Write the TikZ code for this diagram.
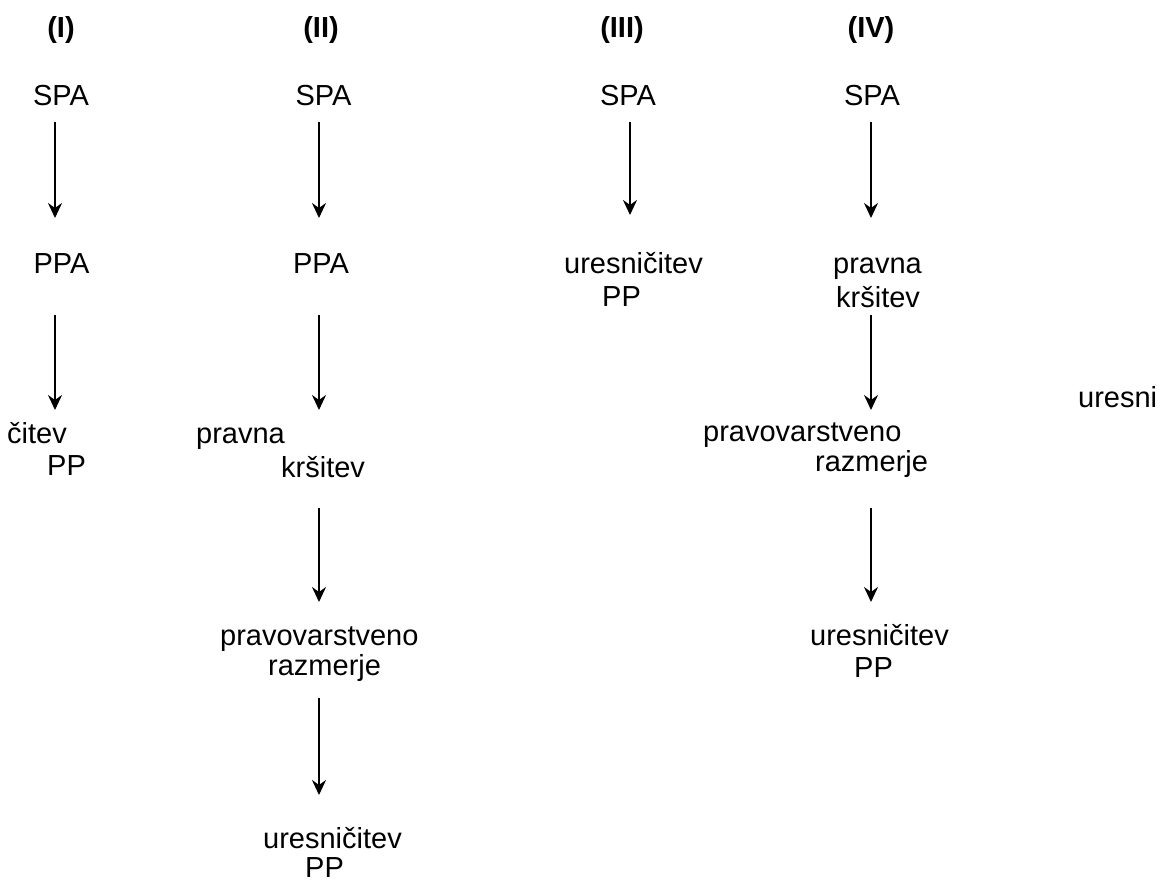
\documentclass[tikz,border=0pt]{standalone}
\usepackage{fontspec}
\setmainfont{Liberation Sans}
\usetikzlibrary{arrows.meta,calc}

\begin{document}
\begin{tikzpicture}[x=1pt,y=-1pt,
  lbl/.style={inner sep=0pt, anchor=base west, font=\fontsize{29}{34}\selectfont},
  ctr/.style={inner sep=0pt, anchor=base, font=\fontsize{29}{34}\selectfont},
  hdr/.style={inner sep=0pt, anchor=base, font=\fontsize{29}{34}\selectfont\bfseries},
  arr/.style={line width=2pt, -{Stealth[length=15pt,width=14pt,inset=5pt]}}]
\useasboundingbox (0,0) rectangle (1164,881);

% column axes for the vertical arrows
\coordinate (c1) at (55,0);
\coordinate (c2) at (319,0);
\coordinate (c3) at (630,0);
\coordinate (c4) at (871,0);

% headings
\node[hdr] (h1) at (61,37)  {(I)};
\node[hdr] (h2) at (321,37) {(II)};
\node[hdr] (h3) at (622,37) {(III)};
\node[hdr] (h4) at (871,37) {(IV)};

% column I
\node[ctr] (spa1) at (61,105)  {SPA};
\node[ctr] (ppa1) at (61.5,273) {PPA};
\node[lbl] (ces1) at (7,443)   {čitev};
\node[lbl] (pp1)  at (47,475)  {PP};

% column II
\node[ctr] (spa2) at (323.5,105) {SPA};
\node[ctr] (ppa2) at (321,273)   {PPA};
\node[lbl] (pr2)  at (196,443) {pravna};
\node[lbl] (kr2)  at (281,477) {kršitev};
\node[lbl] (pv2)  at (220,645) {pravovarstveno};
\node[lbl] (rz2)  at (268,675) {razmerje};
\node[lbl] (ur2)  at (263,848) {uresničitev};
\node[lbl] (pp2)  at (305,877) {PP};

% column III
\node[ctr] (spa3) at (628,105) {SPA};
\node[lbl] (ur3)  at (564,273) {uresničitev};
\node[lbl] (pp3)  at (602,306) {PP};

% column IV
\node[ctr] (spa4) at (872,105) {SPA};
\node[lbl] (pr4)  at (833,273) {pravna};
\node[lbl] (kr4)  at (836,307) {kršitev};
\node[lbl] (pv4)  at (703,441) {pravovarstveno};
\node[lbl] (rz4)  at (815,471) {razmerje};
\node[lbl] (ur4)  at (810,645) {uresničitev};
\node[lbl] (pp4)  at (854,677) {PP};

% stray word at the right edge
\node[lbl] (uresni) at (1078,407) {uresni};

% arrows, column I
\draw[arr] ($(spa1.base -| c1)+(0,17)$) -- ($(ppa1.base -| c1)+(0,-55)$);
\draw[arr] ($(ppa1.base -| c1)+(0,42)$) -- ($(ces1.base -| c1)+(0,-33)$);

% arrows, column II
\draw[arr] ($(spa2.base -| c2)+(0,17)$) -- ($(ppa2.base -| c2)+(0,-55)$);
\draw[arr] ($(ppa2.base -| c2)+(0,42)$) -- ($(pr2.base -| c2)+(0,-33)$);
\draw[arr] ($(kr2.base -| c2)+(0,31)$)  -- ($(pv2.base -| c2)+(0,-43)$);
\draw[arr] ($(rz2.base -| c2)+(0,23)$)  -- ($(ur2.base -| c2)+(0,-53)$);

% arrows, column III
\draw[arr] ($(spa3.base -| c3)+(0,17)$) -- ($(ur3.base -| c3)+(0,-58)$);

% arrows, column IV
\draw[arr] ($(spa4.base -| c4)+(0,17)$) -- ($(pr4.base -| c4)+(0,-55)$);
\draw[arr] ($(kr4.base -| c4)+(0,8)$)   -- ($(pv4.base -| c4)+(0,-31)$);
\draw[arr] ($(rz4.base -| c4)+(0,37)$)  -- ($(ur4.base -| c4)+(0,-43)$);
\end{tikzpicture}
\end{document}
